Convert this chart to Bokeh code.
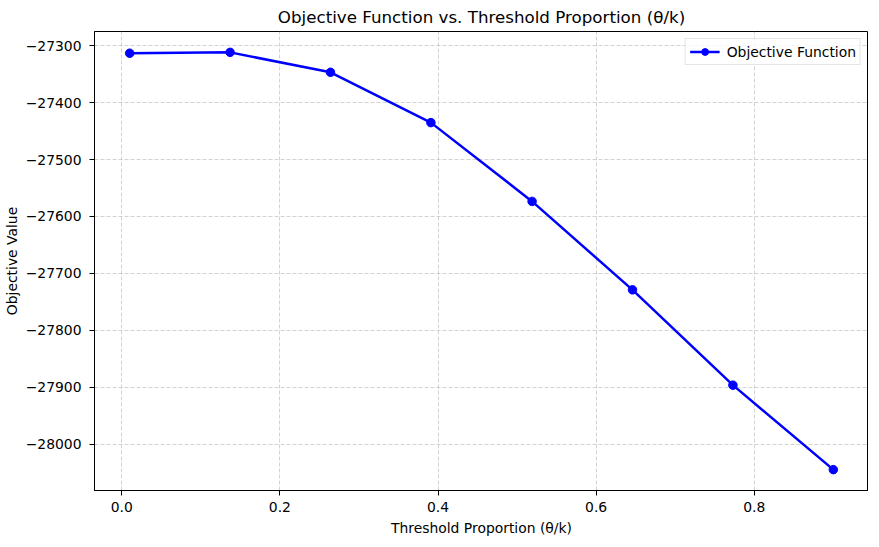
from bokeh.plotting import figure
from bokeh.models import FixedTicker, Range1d
from bokeh.embed import file_html
from bokeh.resources import INLINE

# Data
theta_prop = [0.01, 0.137, 0.264, 0.391, 0.519, 0.646, 0.773, 0.90]
objective = [-27313, -27311.5, -27346.5, -27435, -27573.5, -27729, -27896.5, -28045]

x_ticks = [0.0, 0.2, 0.4, 0.6, 0.8]
x_tick_labels = ["0.0", "0.2", "0.4", "0.6", "0.8"]
y_ticks = [-27300, -27400, -27500, -27600, -27700, -27800, -27900, -28000]
y_tick_labels = ["\u221227300", "\u221227400", "\u221227500", "\u221227600",
                 "\u221227700", "\u221227800", "\u221227900", "\u221228000"]

FONT = "DejaVu Sans"

# matplotlib-like 5% margins
xmin, xmax = min(theta_prop), max(theta_prop)
ymin, ymax = min(objective), max(objective)
xm = (xmax - xmin) * 0.05
ym = (ymax - ymin) * 0.05

p = figure(frame_width=774, frame_height=459, output_backend="svg", toolbar_location=None,
           x_range=Range1d(xmin - xm, xmax + xm),
           y_range=Range1d(ymin - ym, ymax + ym),
           title="Objective Function vs. Threshold Proportion (\u03b8/k)",
           min_border_left=88, min_border_right=0, min_border_top=24, min_border_bottom=46)

p.background_fill_color = "white"
p.border_fill_color = "white"
p.outline_line_color = "black"
p.outline_line_width = 1
p.outline_line_alpha = 1

p.title.align = "center"
p.title.text_font = FONT
p.title.text_font_size = "16.7px"
p.title.text_font_style = "normal"
p.title.text_color = "black"
p.title.standoff = 9

for ax in (p.xaxis, p.yaxis):
    ax.axis_line_color = "black"
    ax.major_tick_line_color = "black"
    ax.major_tick_out = 5
    ax.major_tick_in = 0
    ax.minor_tick_line_color = None
    ax.major_label_text_font = FONT
    ax.major_label_text_font_size = "13.9px"
    ax.major_label_text_color = "black"
    ax.axis_label_text_font = FONT
    ax.axis_label_text_font_size = "13.9px"
    ax.axis_label_text_font_style = "normal"
    ax.axis_label_text_color = "black"

p.xaxis.major_label_standoff = 6
p.yaxis.major_label_standoff = 8
p.xaxis.ticker = FixedTicker(ticks=x_ticks)
p.xaxis.major_label_overrides = dict(zip(x_ticks, x_tick_labels))
p.yaxis.ticker = FixedTicker(ticks=y_ticks)
p.yaxis.major_label_overrides = dict(zip(y_ticks, y_tick_labels))
p.xaxis.axis_label = "Threshold Proportion (\u03b8/k)"
p.yaxis.axis_label = "Objective Value"
p.xaxis.axis_label_standoff = 5
p.yaxis.axis_label_standoff = 3

for g in (p.xgrid, p.ygrid):
    g.grid_line_color = "#b0b0b0"
    g.grid_line_alpha = 0.7
    g.grid_line_dash = "4 2"
    g.grid_line_width = 0.8

p.line(theta_prop, objective, line_color="#0000ff", line_width=2.5,
       legend_label="Objective Function")
p.scatter(theta_prop, objective, size=8.5, fill_color="#0000ff", line_color="#0000ff",
          legend_label="Objective Function")

lg = p.legend[0]
lg.location = "top_right"
lg.margin = 7
lg.padding = 4
lg.spacing = 0
lg.glyph_width = 30
lg.glyph_height = 17
lg.label_height = 17
lg.label_standoff = 7
lg.label_text_font = FONT
lg.label_text_font_size = "13.9px"
lg.label_text_color = "black"
lg.border_line_color = "#cccccc"
lg.border_line_width = 1
lg.background_fill_alpha = 0.8

open("out.html", "w").write(file_html(p, INLINE))
